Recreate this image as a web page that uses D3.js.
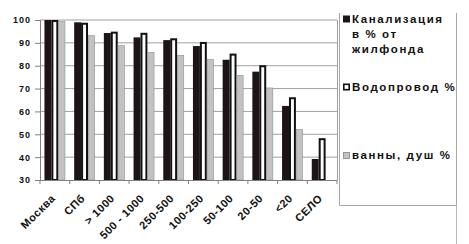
<!DOCTYPE html>
<html>
<head>
<meta charset="utf-8">
<script src="https://cdn.jsdelivr.net/npm/d3@7"></script>
<style>
  body { margin: 0; background: #fff; }
  svg { display: block; font-family: "Liberation Sans", Arial, sans-serif; }
</style>
</head>
<body>
<div id="chart"></div>
<script>
// categories (settlement size) and the three series, % of housing stock
const categories = ["Москва", "СПб", "> 1000", "500 - 1000", "250-500", "100-250", "50-100", "20-50", "<20", "СЕЛО"];
const sewer = [100, 99, 94.3, 92.4, 91.2, 88.6, 82.6, 77.4, 62.4, 39.2];
const water = [100, 98.8, 94.9, 94.4, 92, 90.4, 85.3, 80.2, 66.2, 48.3];
const baths = [99.5, 93.3, 88.9, 85.9, 84.7, 82.9, 75.9, 70.4, 52.2, null];
const yTicks = [30, 40, 50, 60, 70, 80, 90, 100];
const seriesNames = [["Канализация", "в % от", "жилфонда"], ["Водопровод %"], ["ванны, душ %"]];

const width = 469, height = 244;
const plot = { left: 40, right: 337, top: 20, bottom: 180 };

const svg = d3.select('#chart').append('svg')
    .attr('width', width)
    .attr('height', height);

const x = d3.scaleBand()
    .domain(categories)
    .range([plot.left, plot.right])
    .paddingInner(0.3)
    .paddingOuter(0.15);

const xInner = d3.scaleBand()
    .domain([0, 1, 2])
    .range([0, x.bandwidth()]);

const y = d3.scaleLinear()
    .domain([30, 100])
    .range([plot.bottom, plot.top]);

// gridlines
svg.append('g')
    .selectAll('line')
    .data(yTicks.slice(1))
    .enter()
    .append('line')
    .attr('x1', plot.left)
    .attr('x2', plot.right)
    .attr('y1', d => y(d))
    .attr('y2', d => y(d))
    .style('stroke', '#a0a0a0')
    .style('stroke-width', 1);

// plot area right border
svg.append('line')
    .attr('x1', plot.right + 0.5).attr('x2', plot.right + 0.5)
    .attr('y1', plot.top).attr('y2', plot.bottom)
    .style('stroke', '#a0a0a0');

// bars
const series = [
    { values: sewer, fill: '#1d1515', stroke: '#1d1515', sw: 0 },
    { values: water, fill: '#ffffff', stroke: '#111', sw: 2 },
    { values: baths, fill: '#c2c2c2', stroke: '#909090', sw: 0.6 }
];

series.forEach((s, si) => {
    svg.append('g')
        .selectAll('rect')
        .data(categories.map((c, i) => ({ c, v: s.values[i] })).filter(d => d.v != null))
        .enter()
        .append('rect')
        .attr('x', d => x(d.c) + xInner(si) + s.sw / 2)
        .attr('y', d => y(d.v) + s.sw / 2)
        .attr('width', xInner.bandwidth() - s.sw)
        .attr('height', d => y(30) - y(d.v) - s.sw / 2)
        .style('fill', s.fill)
        .style('stroke', s.stroke)
        .style('stroke-width', s.sw);
});

// y axis
const yAxis = svg.append('g')
    .attr('transform', `translate(${plot.left},0)`)
    .call(d3.axisLeft(y).tickValues(yTicks).tickSize(5).tickPadding(4));
yAxis.select('.domain').style('stroke', '#808080');
yAxis.selectAll('.tick line').style('stroke', '#808080');
yAxis.selectAll('text')
    .style('font-size', '9px')
    .style('font-weight', 'bold')
    .style('letter-spacing', '1px')
    .style('fill', '#111');

// x axis with ticks at category boundaries
const step = x.step();
const bounds = categories.map(c => x(c) - step * x.paddingInner() / 2).concat([plot.right]);
const xg = svg.append('g');
xg.append('line')
    .attr('x1', plot.left).attr('x2', plot.right)
    .attr('y1', plot.bottom + 0.5).attr('y2', plot.bottom + 0.5)
    .style('stroke', '#808080');
xg.selectAll('line.tk')
    .data(bounds)
    .enter()
    .append('line')
    .attr('class', 'tk')
    .attr('x1', d => d).attr('x2', d => d)
    .attr('y1', plot.bottom).attr('y2', plot.bottom + 4)
    .style('stroke', '#808080');
xg.selectAll('text')
    .data(categories)
    .enter()
    .append('text')
    .attr('transform', d => `translate(${x(d) + x.bandwidth() / 2 + 1},${plot.bottom + 19}) rotate(-45)`)
    .attr('text-anchor', 'end')
    .style('font-size', '11px')
    .style('font-weight', 'bold')
    .style('letter-spacing', '0.5px')
    .style('fill', '#111')
    .text(d => d);

// legend frame
const lg = svg.append('g');
const box = { x: 339.5, y: 13, r: 456.5, b: 205.5 };
lg.append('path')
    .attr('d', `M${box.x},${box.y}V${box.b}H${box.r}V${box.y}`)
    .style('fill', 'none')
    .style('stroke', '#a8a8a8');
lg.append('line')
    .attr('x1', box.r).attr('x2', box.r)
    .attr('y1', box.b).attr('y2', height)
    .style('stroke', '#b8b8b8');

const legendRows = [22.5, 90.5, 159];
const swatch = [
    { fill: '#1d1515', stroke: '#1d1515', sw: 0 },
    { fill: '#fff', stroke: '#111', sw: 1.6 },
    { fill: '#c2c2c2', stroke: '#888', sw: 0.8 }
];
seriesNames.forEach((lines, i) => {
    const s = swatch[i];
    lg.append('rect')
        .attr('x', 343 + s.sw / 2)
        .attr('y', legendRows[i] - 7 + s.sw / 2)
        .attr('width', 7 - s.sw)
        .attr('height', 7 - s.sw)
        .style('fill', s.fill)
        .style('stroke', s.stroke)
        .style('stroke-width', s.sw);
    const t = lg.append('text')
        .attr('x', 352)
        .attr('y', legendRows[i])
        .style('font-size', '11.5px')
        .style('font-weight', 'bold')
        .style('letter-spacing', '1.6px')
        .style('fill', '#111');
    lines.forEach((ln, k) => {
        t.append('tspan')
            .attr('x', 352)
            .attr('dy', k === 0 ? 0 : 15)
            .text(ln);
    });
});
</script>
</body>
</html>
